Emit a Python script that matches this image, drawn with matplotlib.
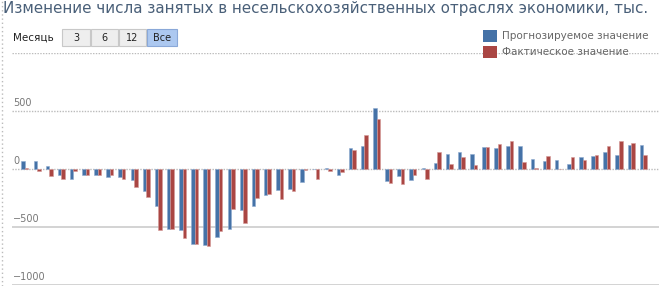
import numpy as np
import matplotlib
matplotlib.use("Agg")
import matplotlib.pyplot as plt
from matplotlib.patches import Rectangle

# values, thousands
forecast = [70, 72, 26, -52, -86, -52, -55, -72, -72, -98, -192, -321, -517, -528,
            -646, -651, -585, -517, -350, -321, -224, -178, -172, -115, 0, 9, -52,
            181, 195, 522, -106, -63, -92, 11, 55, 132, 144, 132, 189, 184, 198,
            198, 89, 72, 77, 46, 100, 115, 149, 123, 210, 210]
actual = [10, -17, -63, -83, -20, -52, -55, -52, -86, -158, -238, -528, -517, -594,
          -646, -660, -537, -344, -465, -250, -215, -258, -192, -9, -86, -17, -29,
          164, 293, 430, -123, -129, -52, -89, 149, 46, 103, 34, 189, 218, 241,
          60, 11, 115, 0, 103, 80, 123, 198, 241, 227, 123]
yticks = [500, 0, -500, -1000]
title = "Изменение числа занятых в несельскохозяйственных отраслях экономики, тыс."
labels = ["Прогнозируемое значение", "Фактическое значение"]
buttons = ["3", "6", "12", "Все"]

blue = "#4572A7"
red = "#AA4643"

W, H = 659, 286
fig = plt.figure(figsize=(W / 100, H / 100), dpi=100)

def fx(px):
    return px / W

def fy(py):
    return 1 - py / H

ax = fig.add_axes([fx(12), fy(285), fx(659) - fx(12), fy(53) - fy(285)])
ax.set_xlim(-1.07, 52.3)
ax.set_ylim(-1000, 1000)
ax.axis("off")

# grid lines: dotted on top half, solid below
for v in [1000, 500, 0]:
    ax.axhline(v, color="#bbbbbb", lw=1, ls=(0, (1, 1)), zorder=1)
for v in [-500, -1000]:
    ax.axhline(v, color="#cccccc", lw=1.2, zorder=1)

x = np.arange(len(forecast))
w = 0.29
ax.bar(x - w / 2, forecast, w, color=blue, edgecolor="#8eaad0", lw=0.4, zorder=3)
ax.bar(x + w / 2, actual, w, color=red, edgecolor="#d49a98", lw=0.4, zorder=3)

for v in yticks:
    ax.text(0.002, v + 25, f"{v:d}".replace("-", "\u2212"), transform=ax.get_yaxis_transform(),
            fontsize=7, color="#777777", ha="left", va="bottom", zorder=4)

# left dotted frame line
fig.add_artist(plt.Line2D([fx(2), fx(2)], [0, 1], color="#bbbbbb", lw=1, ls=(0, (1, 2))))

fig.text(fx(3), fy(9), title, fontsize=10.9, color="#4a6079", ha="left", va="center")

# range selector
fig.text(fx(13), fy(38), "Месяць", fontsize=7.5, color="#222222", ha="left", va="center")
bx = [62, 91, 119, 147]
bw = [28, 27, 27, 30]
for i, b in enumerate(buttons):
    sel = b == "Все"
    fig.add_artist(Rectangle((fx(bx[i]), fy(46)), fx(bw[i]), fy(29) - fy(46),
                             facecolor="#acc8f0" if sel else "#eeeeee",
                             edgecolor="#8aa8d8" if sel else "#c8c8c8", lw=0.8))
    fig.text(fx(bx[i] + bw[i] / 2), fy(38), b, fontsize=7, color="#222222",
             ha="center", va="center")

# legend
for i, (lab, c) in enumerate(zip(labels, [blue, red])):
    y0 = 36 + i * 16
    fig.add_artist(Rectangle((fx(483), fy(y0 + 6)), fx(14), fy(y0 - 6) - fy(y0 + 6),
                             facecolor=c, edgecolor="none"))
    fig.text(fx(502), fy(y0), lab, fontsize=7.5, color="#666666", ha="left", va="center")

fig.savefig("out.png", dpi=100, facecolor="white")
